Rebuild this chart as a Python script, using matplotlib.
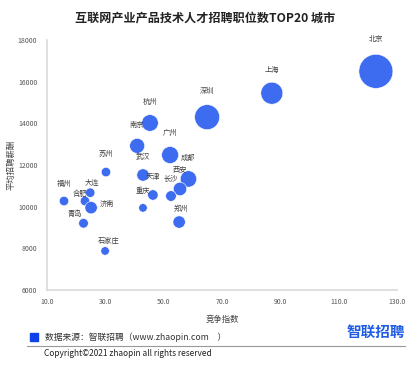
import numpy as np
import matplotlib
matplotlib.use("Agg")
import matplotlib.pyplot as plt

plt.rcParams["font.family"] = ["Noto Sans CJK SC", "DejaVu Sans"]
plt.rcParams["axes.unicode_minus"] = False

# ==============================
# 数据
# ==============================
cities = ["北京", "上海", "深圳", "杭州", "南京", "广州", "成都", "西安", "长沙", "武汉",
          "天津", "重庆", "苏州", "福州", "大连", "合肥", "济南", "青岛", "石家庄", "郑州"]
competition = [122.8, 87.1, 64.9, 45.3, 40.9, 52.2, 58.5, 55.6, 52.5, 42.9,
               46.3, 42.9, 30.2, 15.8, 24.8, 23.0, 25.1, 22.5, 29.9, 55.3]
salary = [16500, 15450, 14300, 14020, 12920, 12480, 11330, 10850, 10510, 11520,
          10560, 9940, 11660, 10270, 10670, 10270, 9950, 9200, 7870, 9260]
# 气泡大小（职位数相对值）
jobs = [289, 121, 156, 69, 56, 72, 67, 45, 28, 38,
        27, 18, 22, 22, 22, 22, 38, 23, 18, 38]

xticks = [10, 30, 50, 70, 90, 110, 130]
yticks = [6000, 8000, 10000, 12000, 14000, 16000, 18000]

# 标签偏移（像素，相对圆心）
label_offset = {
    "北京": (0, -32), "上海": (0, -23), "深圳": (0, -26), "杭州": (0, -21),
    "南京": (0, -21), "广州": (0, -22), "成都": (0, -21), "西安": (0, -19),
    "长沙": (0, -18), "武汉": (0, -18), "天津": (0, -18), "重庆": (0, -17),
    "苏州": (0, -18), "福州": (0, -17), "大连": (2, -10), "合肥": (-5, -7),
    "济南": (16, -4), "青岛": (-9, -9), "石家庄": (4, -10), "郑州": (2, -13),
}

COL_BUBBLE = "#3d6cf0"
COL_TEXT = "#404040"

fig = plt.figure(figsize=(4.13, 3.75), dpi=100)
ax = fig.add_axes([0.114, 0.227, 0.847, 0.666])

# 半径(px) = sqrt(jobs)，转为点面积
sizes = [(2 * np.sqrt(j) * 0.72) ** 2 for j in jobs]
ax.scatter(competition, salary, s=sizes, color=COL_BUBBLE, edgecolors="white",
           linewidths=0.4, zorder=3)

for name, x, y in zip(cities, competition, salary):
    dx, dy = label_offset[name]
    ax.annotate(name, (x, y), xytext=(dx * 0.72, -dy * 0.72), textcoords="offset points",
                ha="center", va="center", fontsize=5.2, color=COL_TEXT, zorder=4)

ax.set_xlim(10, 130)
ax.set_ylim(6000, 18000)
ax.set_xticks(xticks)
ax.set_xticklabels([f"{v:.1f}" for v in xticks])
ax.set_yticks(yticks)
ax.set_yticklabels([str(v) for v in yticks])
ax.tick_params(length=0, labelsize=5, colors="#555555", pad=6)
ax.tick_params(axis="y", pad=7)

for side in ["top", "right"]:
    ax.spines[side].set_visible(False)
for side in ["left", "bottom"]:
    ax.spines[side].set_color("#d9d9d9")
    ax.spines[side].set_linewidth(1.2)

ax.set_xlabel("竞争指数", fontsize=6, color=COL_TEXT, labelpad=6)
fig.text(11 / 413, 1 - 165 / 375, "平均招聘薪酬", rotation=90, ha="center", va="center",
         fontsize=6, color=COL_TEXT)

fig.text(0.497, 0.951, "互联网产业产品技术人才招聘职位数TOP20 城市", ha="center", va="center",
         fontsize=8.7, fontweight="bold", color="#222222")

# 页脚
fig.patches.append(plt.Rectangle((30 / 413, 1 - 341 / 375), 8 / 413, 8 / 375,
                                 transform=fig.transFigure, color="#1040e8"))
fig.text(45 / 413, 1 - 337 / 375, "数据来源：智联招聘（www.zhaopin.com　）", ha="left", va="center",
         fontsize=6.3, color="#333333")
fig.text(405 / 413, 1 - 332 / 375, "智联招聘", ha="right", va="center",
         fontsize=10.5, fontweight="bold", color="#1f5ce6")
fig.add_artist(plt.Line2D([27 / 413, 405 / 413], [1 - 346 / 375, 1 - 346 / 375],
                          transform=fig.transFigure, color="#999999", linewidth=0.8))
fig.text(44 / 413, 1 - 354 / 375, "Copyright©2021 zhaopin all rights reserved", ha="left",
         va="center", fontsize=6, color="#222222")

fig.savefig("out.png", dpi=100)
